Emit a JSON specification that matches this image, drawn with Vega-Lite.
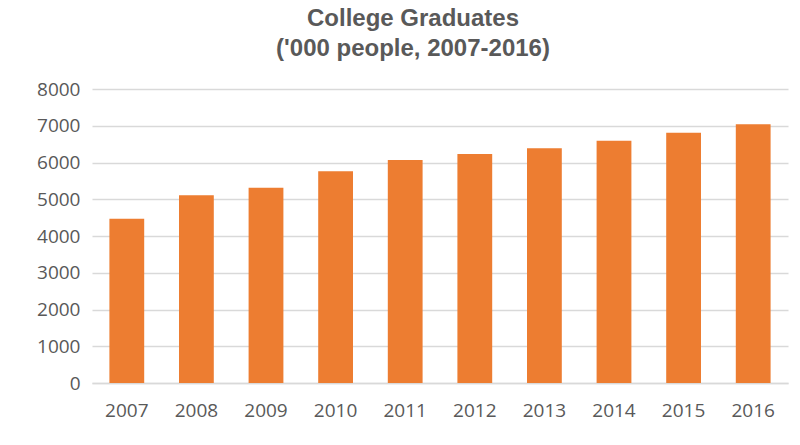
{
  "$schema": "https://vega.github.io/schema/vega-lite/v6.json",
  "autosize": {"type": "none"},
  "width": 696,
  "height": 294,
  "padding": {"left": 92, "top": 89, "right": 12, "bottom": 62},
  "background": "white",
  "title": {
    "text": ["College Graduates", "('000 people, 2007-2016)"],
    "font": "Liberation Sans",
    "fontSize": 24,
    "fontWeight": "bold",
    "color": "#595959",
    "lineHeight": 30,
    "anchor": "middle",
    "frame": "group",
    "dx": -27,
    "offset": 19
  },
  "data": {
    "values": [
      {"Year": "2007", "Graduates": 4470},
      {"Year": "2008", "Graduates": 5110},
      {"Year": "2009", "Graduates": 5310},
      {"Year": "2010", "Graduates": 5760},
      {"Year": "2011", "Graduates": 6070},
      {"Year": "2012", "Graduates": 6230},
      {"Year": "2013", "Graduates": 6390},
      {"Year": "2014", "Graduates": 6590},
      {"Year": "2015", "Graduates": 6810},
      {"Year": "2016", "Graduates": 7040}
    ]
  },
  "mark": {"type": "bar", "color": "#ED7D31"},
  "encoding": {
    "x": {
      "field": "Year",
      "type": "nominal",
      "scale": {"paddingInner": 0.5, "paddingOuter": 0.25},
      "axis": {
        "title": null,
        "labelAngle": 0,
        "labelFont": "Open Sans",
        "labelFontSize": 19,
        "labelColor": "#595959",
        "labelPadding": 18,
        "ticks": false,
        "domainColor": "#D9D9D9",
        "domainWidth": 1.5,
        "grid": false
      }
    },
    "y": {
      "field": "Graduates",
      "type": "quantitative",
      "scale": {"domain": [0, 8000]},
      "axis": {
        "title": null,
        "values": [0, 1000, 2000, 3000, 4000, 5000, 6000, 7000, 8000],
        "format": "d",
        "labelFont": "Open Sans",
        "labelFontSize": 19,
        "labelColor": "#595959",
        "labelPadding": 12,
        "ticks": false,
        "domain": false,
        "gridColor": "#D9D9D9",
        "gridWidth": 1.5
      }
    }
  },
  "config": {"view": {"stroke": null}}
}
